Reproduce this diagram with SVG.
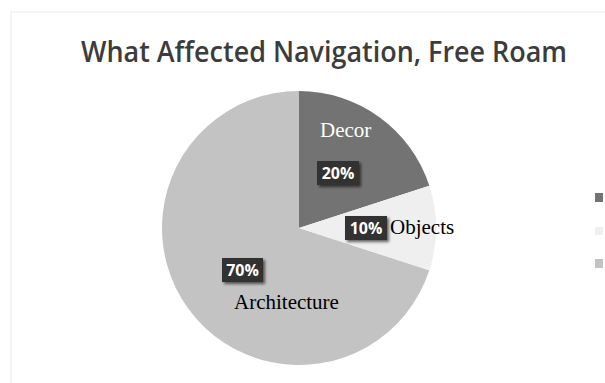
<svg xmlns="http://www.w3.org/2000/svg" width="605" height="383" viewBox="0 0 605 383">
<defs>
<filter id="sh" x="-30%" y="-30%" width="170%" height="170%">
<feGaussianBlur in="SourceAlpha" stdDeviation="1.5"/>
<feOffset dx="2" dy="2" result="b"/>
<feComponentTransfer><feFuncA type="linear" slope="0.6"/></feComponentTransfer>
<feMerge><feMergeNode/><feMergeNode in="SourceGraphic"/></feMerge>
</filter>
</defs>
<style>
.title{font-family:"Open Sans","Liberation Sans",sans-serif;font-weight:600;font-size:28px;fill:#3c3c3c}
.lbl{font-family:"Liberation Serif","Times New Roman",serif;font-size:21px}
.pct{font-family:"Open Sans","Liberation Sans",sans-serif;font-weight:700;font-size:16px;fill:#ffffff}
.box{fill:#333333}
</style>
<rect x="0" y="0" width="605" height="383" fill="#ffffff"/>
<path d="M11 383 V12 H605" fill="none" stroke="#ebebeb" stroke-width="1.2"/>
<text class="title" x="81" y="62" textLength="486" lengthAdjust="spacingAndGlyphs">What Affected Navigation, Free Roam</text>
<g id="slice-architecture">
<path d="M299 228 L429.3 270.3 A137 137 0 1 1 299 91 Z" fill="#c3c3c3"/>
</g>
<g id="slice-decor">
<path d="M299 228 L299 91 A137 137 0 0 1 429.3 185.7 Z" fill="#737373"/>
</g>
<g id="slice-objects">
<path d="M299 228 L429.3 185.7 A137 137 0 0 1 429.3 270.3 Z" fill="#efefef"/>
</g>
<g id="label-decor">
<text class="lbl" x="320" y="137" fill="#ffffff">Decor</text>
<rect class="box" x="317" y="161" width="42" height="24" filter="url(#sh)"/>
<text class="pct" x="338" y="179" text-anchor="middle">20%</text>
</g>
<g id="label-objects">
<rect class="box" x="345" y="216" width="42" height="24" filter="url(#sh)"/>
<text class="pct" x="366" y="234" text-anchor="middle">10%</text>
<text class="lbl" x="390" y="234" fill="#000000">Objects</text>
</g>
<g id="label-architecture">
<rect class="box" x="222" y="258" width="41" height="24" filter="url(#sh)"/>
<text class="pct" x="242.5" y="276" text-anchor="middle">70%</text>
<text class="lbl" x="234" y="309" fill="#000000">Architecture</text>
</g>
<g id="legend">
<rect x="595" y="193" width="8" height="9" fill="#737373"/>
<rect x="595" y="227" width="8" height="8" fill="#efefef"/>
<rect x="595" y="259" width="8" height="9" fill="#c3c3c3"/>
</g>
<g id="connectors"></g>
</svg>
